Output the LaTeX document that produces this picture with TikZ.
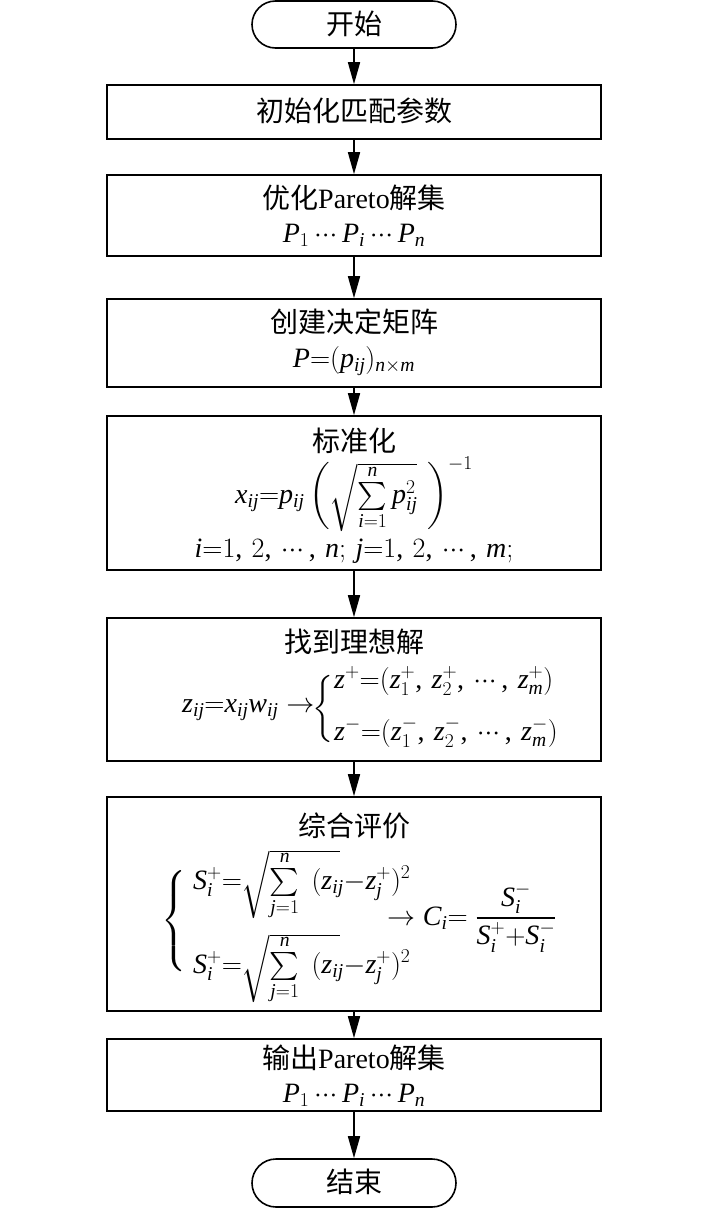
\RequirePackage{fix-cm}
\documentclass[tikz,border=0pt]{standalone}
\usepackage{fontspec}
\setmainfont[NFSSFamily=libser]{Liberation Serif}
\newfontfamily\cjk{Noto Sans CJK SC}
\DeclareFontFamily{OMX}{cmex}{}
\DeclareFontShape{OMX}{cmex}{m}{n}{<->cmex10}{}
\DeclareSymbolFont{tlet}{TU}{libser}{m}{it}
\DeclareSymbolFont{tup}{TU}{libser}{m}{n}
\newcommand\mydeclit[1]{\DeclareMathSymbol{#1}{\mathalpha}{tlet}{`#1}}
\mydeclit{P}\mydeclit{p}\mydeclit{i}\mydeclit{j}\mydeclit{n}\mydeclit{m}
\mydeclit{x}\mydeclit{z}\mydeclit{w}\mydeclit{S}\mydeclit{C}
\newcommand\mydecup[1]{\DeclareMathSymbol{#1}{\mathord}{tup}{`#1}}
\mydecup{0}\mydecup{1}\mydecup{2}\mydecup{3}\mydecup{4}\mydecup{5}\mydecup{6}\mydecup{7}\mydecup{8}\mydecup{9}
\DeclareMathSymbol{(}{\mathopen}{tup}{`(}
\DeclareMathSymbol{)}{\mathclose}{tup}{`)}
\DeclareMathSymbol{,}{\mathpunct}{tup}{`,}
\DeclareMathSymbol{;}{\mathpunct}{tup}{`;}
\newcommand\mydots{\mathinner{\cdotp\mkern-3mu\cdotp\mkern-3mu\cdotp}}
\newcommand\mybrace[1]{\left\{\vrule height #1 depth #1 width 0pt\right.}
\newcommand\mystrut[2]{\vrule height #1 depth #2 width 0pt}
\usetikzlibrary{arrows.meta,shapes.misc}
\tikzset{
  box/.style={draw, line width=1.6pt, minimum width=494pt, inner sep=0pt},
  term/.style={draw, line width=1.6pt, rounded rectangle, minimum width=204pt, minimum height=47pt, inner sep=0pt},
  txt/.style={inner sep=0pt, font=\fontsize{28}{34}\selectfont},
  arr/.style={line width=1.6pt, -{Triangle[length=22pt,width=12pt]}},
}
\begin{document}
\begin{tikzpicture}[x=1pt,y=-1pt]
\useasboundingbox (0,0) rectangle (709,1208);
% shapes
\node[term] (s) at (354,24.5) {};
\node[box, minimum height=54pt] (b1) at (354,112) {};
\node[box, minimum height=81pt] (b2) at (354,215.5) {};
\node[box, minimum height=88pt] (b3) at (354,343) {};
\node[box, minimum height=154pt] (b4) at (354,493) {};
\node[box, minimum height=143pt] (b5) at (354,689.5) {};
\node[box, minimum height=214pt] (b6) at (354,904) {};
\node[box, minimum height=72pt] (b7) at (354,1075) {};
\node[term, minimum height=48pt] (e) at (354,1183) {};
% connectors
\draw[arr] (s) -- (b1);
\draw[arr] (b1) -- (b2);
\draw[arr] (b2) -- (b3);
\draw[arr] (b3) -- (b4);
\draw[arr] (b4) -- (b5);
\draw[arr] (b5) -- (b6);
\draw[arr] (b6) -- (b7);
\draw[arr] (b7) -- (e);
% texts
\node[txt] (t0) at (354,24) {\cjk 开始};
\node[txt] (t1) at (354,111) {\cjk 初始化匹配参数};
\node[txt] (t2a) at (354,198) {{\cjk 优化}Pareto{\cjk 解集}};
\node[txt, anchor=base] (t2b) at (354,242) {$P_1\mydots P_i\mydots P_n$};
\node[txt] (t3a) at (354,322) {\cjk 创建决定矩阵};
\node[txt, anchor=base] (t3b) at (354,367) {$P{=}(p_{ij})_{n\times m}$};
\node[txt] (t4a) at (354,441) {\cjk 标准化};
\node[txt, anchor=base] (t4b) at (354,503) {$x_{ij}{=}p_{ij}\left(\sqrt{\mystrut{32pt}{24pt}\smash{\sum\limits_{i=1}^{n}}\,p_{ij}^{2}}\hspace{10pt}\right)^{-1}$};
\node[txt, anchor=base] (t4c) at (354,557) {$i{=}1,\,2,\,\mydots,\,n;\,j{=}1,\,2,\,\mydots,\,m;$};
\node[txt] (t5a) at (354,642) {\cjk 找到理想解};
\node[txt, anchor=base west] (t5b) at (182,712) {$z_{ij}{=}x_{ij}w_{ij}\rightarrow$};
\node[txt] (t5br) at (324,710) {$\mybrace{28pt}$};
\node[txt, anchor=base west] (t5c) at (334,688) {$z^{+}{=}(z_1^{+},\mkern3mu z_2^{+},\mkern3mu \mydots,\mkern3mu z_m^{+})$};
\node[txt, anchor=base west] (t5d) at (334,740) {$z^{-}{=}(z_1^{-},\mkern3mu z_2^{-},\mkern3mu \mydots,\mkern3mu z_m^{-})$};
\node[txt] (t6a) at (354,826) {\cjk 综合评价};
\node[txt] (t6br) at (175,921) {$\mybrace{40pt}$};
\node[txt, anchor=base west] (t6c) at (193,889) {$S_i^{+}{=}\sqrt{\mystrut{30pt}{24pt}\smash{\sum\limits_{j=1}^{n}}\hspace{40pt}}\hspace{-28pt}(z_{ij}{-}z_j^{+})^{2}$};
\node[txt, anchor=base west] (t6d) at (193,973) {$S_i^{+}{=}\sqrt{\mystrut{30pt}{24pt}\smash{\sum\limits_{j=1}^{n}}\hspace{40pt}}\hspace{-28pt}(z_{ij}{-}z_j^{+})^{2}$};
\node[txt, anchor=base west] (t6e) at (387,925) {$\rightarrow C_i{=}\;{\displaystyle\frac{S_i^{-}}{S_i^{+}{+}S_i^{-}}}$};
\node[txt] (t7a) at (354,1058) {{\cjk 输出}Pareto{\cjk 解集}};
\node[txt, anchor=base] (t7b) at (354,1102) {$P_1\mydots P_i\mydots P_n$};
\node[txt] (t8) at (354,1182) {\cjk 结束};
\end{tikzpicture}
\end{document}
